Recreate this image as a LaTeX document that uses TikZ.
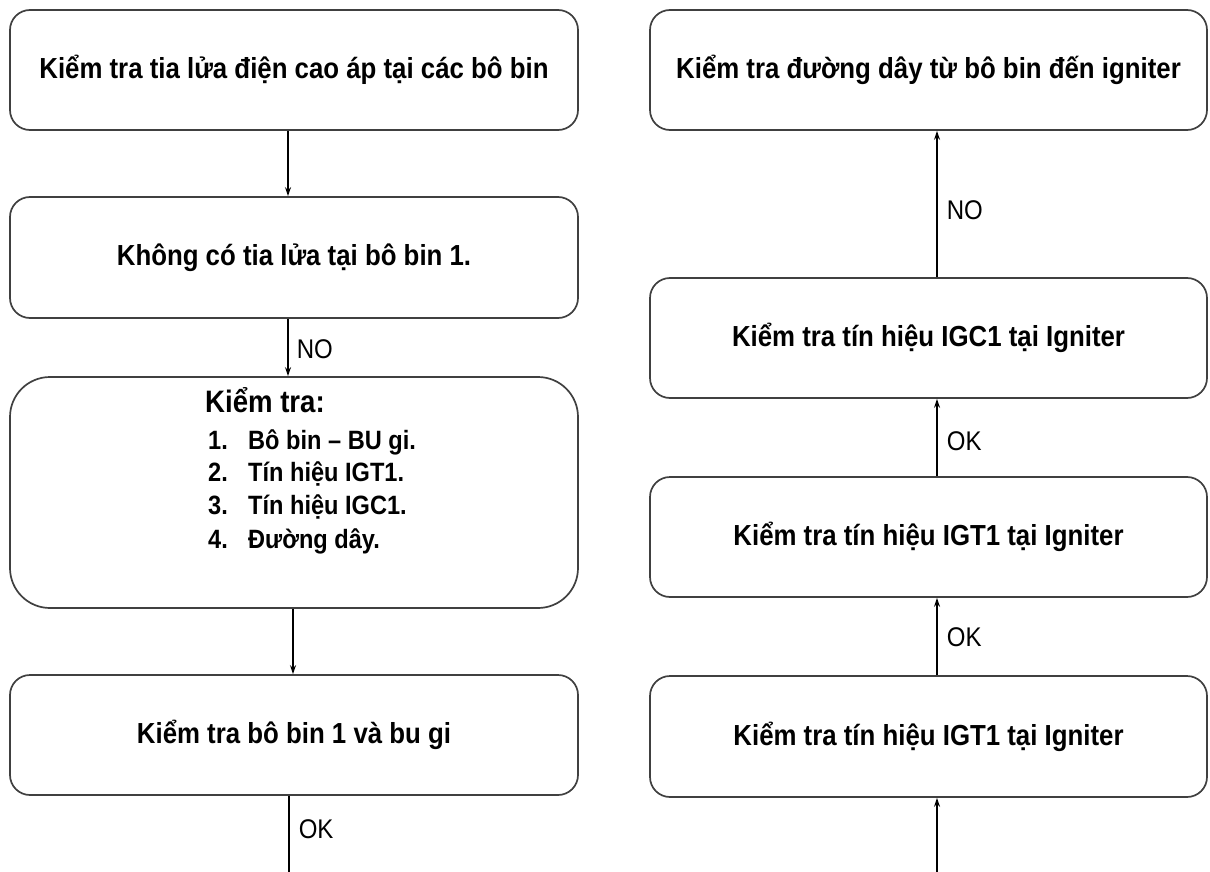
\documentclass[tikz,border=0pt]{standalone}
\usepackage{fontspec}
\setmainfont{Liberation Sans}[FakeStretch=0.89]
\usetikzlibrary{arrows.meta}
\begin{document}
\begin{tikzpicture}[x=1pt,y=-1pt,
  box/.style={draw=black!75, line width=1.7pt, rounded corners=20pt, fill=white,
    inner sep=0pt, font=\bfseries\fontsize{29}{34}\selectfont},
  lbox/.style={box, minimum width=568pt},
  rbox/.style={box, minimum width=557pt},
  conn/.style={line width=1.6pt, black},
  arr/.style={conn, -{Stealth[length=9pt,width=6pt]}},
  lbl/.style={font=\fontsize{27}{30}\selectfont, anchor=west, inner sep=0pt},
  item/.style={font=\bfseries\fontsize{26.5}{30}\selectfont, anchor=base west, inner sep=0pt}]
\useasboundingbox (0,0) rectangle (1210,872);
\fill[white] (0,0) rectangle (1210,872);
% left column
\node[lbox, minimum height=120pt] (L1) at (294,70) {Kiểm tra tia lửa điện cao áp tại các bô bin};
\node[lbox, minimum height=121pt] (L2) at (294,257.5) {Không có tia lửa tại bô bin 1.};
\node[lbox, minimum height=231pt, rounded corners=40pt] (L3) at (294,492.5) {};
\node[lbox, minimum height=120pt] (L4) at (294,735) {Kiểm tra bô bin 1 và bu gi};
\node[item, font=\bfseries\fontsize{31}{34}\selectfont] (H) at (205,412) {Kiểm tra:};
\node[item] (n1) at (208,449) {\bfseries 1.};
\node[item] (t1) at (248,449) {\bfseries Bô bin – BU gi.};
\node[item] (n2) at (208,481) {\bfseries 2.};
\node[item] (t2) at (248,481) {\bfseries Tín hiệu IGT1.};
\node[item] (n3) at (208,514) {\bfseries 3.};
\node[item] (t3) at (248,514) {\bfseries Tín hiệu IGC1.};
\node[item] (n4) at (208,548) {\bfseries 4.};
\node[item] (t4) at (248,548) {\bfseries Đường dây.};
% right column
\node[rbox, minimum height=120pt] (R1) at (928.5,70) {Kiểm tra đường dây từ bô bin đến igniter};
\node[rbox, minimum height=120pt] (R2) at (928.5,338) {Kiểm tra tín hiệu IGC1 tại Igniter};
\node[rbox, minimum height=120pt] (R3) at (928.5,537) {Kiểm tra tín hiệu IGT1 tại Igniter};
\node[rbox, minimum height=121pt] (R4) at (928.5,736.5) {Kiểm tra tín hiệu IGT1 tại Igniter};
% connectors
\draw[arr] ([xshift=-6pt]L1.south) -- ([xshift=-6pt]L2.north);
\draw[arr] ([xshift=-6pt]L2.south) -- node[lbl, right, xshift=8pt, yshift=-2pt]{NO} ([xshift=-6pt]L3.north);
\draw[arr] ([xshift=-1pt]L3.south) -- ([xshift=-1pt]L4.north);
\coordinate (lend) at (289,872);
\coordinate (rend) at (937,872);
\draw[conn] ([xshift=-5pt]L4.south) -- node[lbl, right, xshift=9pt, yshift=5pt]{OK} (lend);
\draw[arr] (rend) -- ([xshift=8.5pt]R4.south);
\draw[arr] ([xshift=8.5pt]R3.north) -- node[lbl, right, xshift=9pt, yshift=-4pt]{OK} ([xshift=8.5pt]R2.south);
\draw[arr] ([xshift=8.5pt]R4.north) -- node[lbl, right, xshift=9pt, yshift=-1pt]{OK} ([xshift=8.5pt]R3.south);
\draw[arr] ([xshift=8.5pt]R2.north) -- node[lbl, right, xshift=9pt, yshift=-6pt]{NO} ([xshift=8.5pt]R1.south);
\end{tikzpicture}
\end{document}
